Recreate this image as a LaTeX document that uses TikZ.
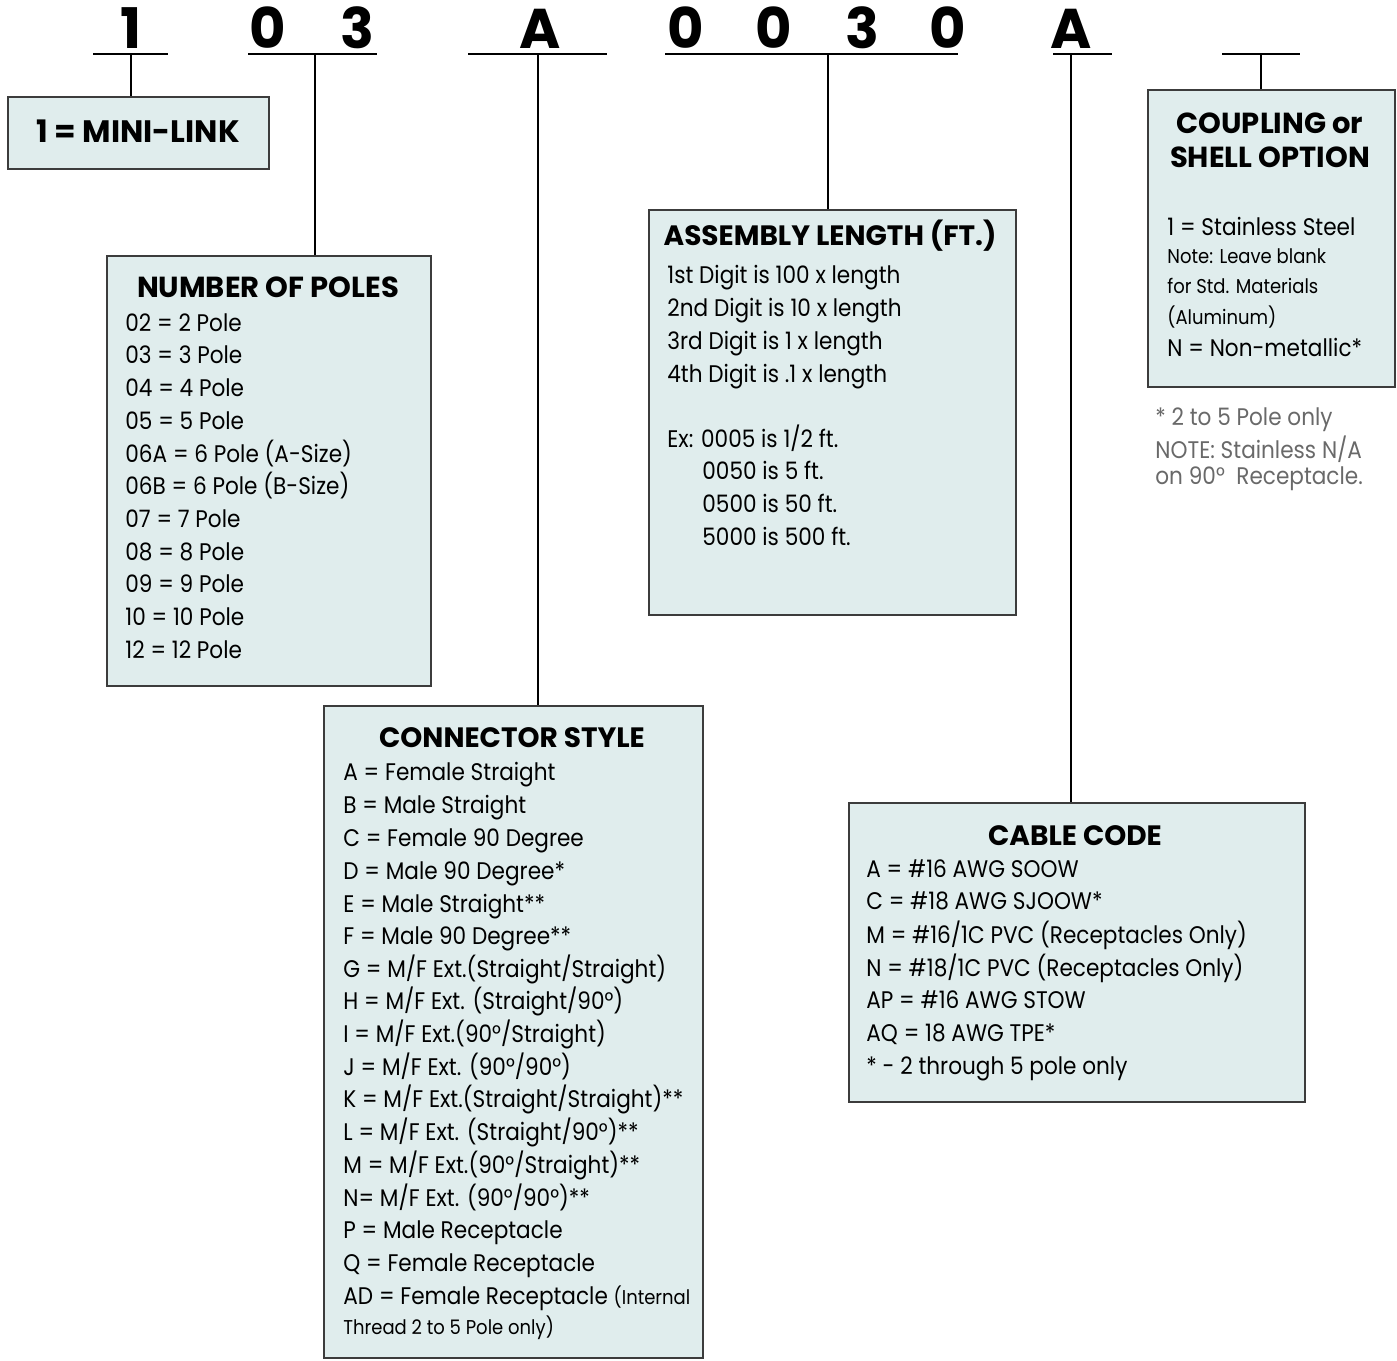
\documentclass[tikz,border=0pt]{standalone}
\usepackage{fontspec}
\setmainfont[FakeStretch=0.9]{Poppins}
\newfontfamily\headfont{Poppins}
\definecolor{boxfill}{RGB}{224,237,237}
\definecolor{boxline}{RGB}{60,60,60}
\definecolor{notegray}{RGB}{105,105,105}

\begin{document}
\begin{tikzpicture}[x=0.5pt,y=-0.5pt,
  optbox/.style={draw=boxline,fill=boxfill,line width=0.8pt,anchor=north west,inner sep=0},
  digit/.style={font=\headfont\fontsize{28}{30}\selectfont\bfseries,anchor=base,inner sep=0},
  head/.style={font=\headfont\fontsize{14}{16}\selectfont\bfseries,anchor=base,inner sep=0},
  item/.style={font=\fontsize{12}{14}\selectfont,anchor=base west,inner sep=0},
  small/.style={font=\fontsize{10}{12}\selectfont,anchor=base west,inner sep=0},
  note/.style={item,text=notegray},
  lead/.style={line width=0.6pt}]
\useasboundingbox (0,0) rectangle (1397,1360);

% part number
\node[digit] (d1) at (131,48) {1};
\node[digit] (d2) at (268,48) {0};
\node[digit] (d3) at (357,48) {3};
\node[digit] (d4) at (540,48) {A};
\node[digit] (d5) at (686,48) {0};
\node[digit] (d6) at (774,48) {0};
\node[digit] (d7) at (862,48) {3};
\node[digit] (d8) at (948,48) {0};
\node[digit] (d9) at (1071,48) {A};

% underlines
\coordinate (u1w) at (93,54);   \coordinate (u1e) at (168,54);  \coordinate (t1) at (131,54);
\coordinate (u2w) at (248,54);  \coordinate (u2e) at (377,54);  \coordinate (t2) at (315,54);
\coordinate (u3w) at (468,54);  \coordinate (u3e) at (607,54);  \coordinate (t3) at (538,54);
\coordinate (u4w) at (665,54);  \coordinate (u4e) at (958,54);  \coordinate (t4) at (828,54);
\coordinate (u5w) at (1053,54); \coordinate (u5e) at (1112,54); \coordinate (t5) at (1071,54);
\coordinate (u6w) at (1222,54); \coordinate (u6e) at (1300,54); \coordinate (t6) at (1261,54);
\draw[line width=0.8pt] (u1w) -- (u1e);
\draw[line width=0.8pt] (u2w) -- (u2e);
\draw[line width=0.8pt] (u3w) -- (u3e);
\draw[line width=0.8pt] (u4w) -- (u4e);
\draw[line width=0.8pt] (u5w) -- (u5e);
\draw[line width=0.8pt] (u6w) -- (u6e);

% boxes
\node[optbox, minimum width=130.5pt, minimum height=36pt] (minilink) at (7,96) {};
\node[optbox, minimum width=162pt, minimum height=215pt] (poles) at (106,255) {};
\node[optbox, minimum width=189.5pt, minimum height=326pt] (style) at (323,705) {};
\node[optbox, minimum width=183.5pt, minimum height=202.5pt] (length) at (648,209) {};
\node[optbox, minimum width=228pt, minimum height=149.5pt] (cable) at (848,802) {};
\node[optbox, minimum width=123.5pt, minimum height=148.5pt] (shell) at (1147,89) {};

% leads
\draw[lead] (t1) -- (t1 |- minilink.north);
\draw[lead] (t2) -- (t2 |- poles.north);
\draw[lead] (t3) -- (t3 |- style.north);
\draw[lead] (t4) -- (t4 |- length.north);
\draw[lead] (t5) -- (t5 |- cable.north);
\draw[lead] (t6) -- (t6 |- shell.north);

% mini-link
\node[head, font=\headfont\fontsize{15.5}{17}\selectfont\bfseries] (mltext) at (138,142) {1 = MINI-LINK};

% number of poles
\node[head, font=\headfont\fontsize{14.5}{16}\selectfont\bfseries] (ph) at (268,297) {NUMBER OF POLES};
\node[item] (p1) at (125,331) {02 = 2 Pole};
\node[item] (p2) at (125,363) {03 = 3 Pole};
\node[item] (p3) at (125,396) {04 = 4 Pole};
\node[item] (p4) at (125,429) {05 = 5 Pole};
\node[item] (p5) at (125,462) {06A = 6 Pole (A-Size)};
\node[item] (p6) at (125,494) {06B = 6 Pole (B-Size)};
\node[item] (p7) at (125,527) {07 = 7 Pole};
\node[item] (p8) at (125,560) {08 = 8 Pole};
\node[item] (p9) at (125,592) {09 = 9 Pole};
\node[item] (p10) at (125,625) {10 = 10 Pole};
\node[item] (p11) at (125,658) {12 = 12 Pole};

% connector style
\node[head] (sh) at (512,747) {CONNECTOR STYLE};
\node[item] (s1) at (343,780) {A = Female Straight};
\node[item] (s2) at (343,813) {B = Male Straight};
\node[item] (s3) at (343,846) {C = Female 90 Degree};
\node[item] (s4) at (343,879) {D = Male 90 Degree*};
\node[item] (s5) at (343,912) {E = Male Straight**};
\node[item] (s6) at (343,944) {F = Male 90 Degree**};
\node[item] (s7) at (343,977) {G = M/F Ext.(Straight/Straight)};
\node[item] (s8) at (343,1009) {H = M/F Ext. (Straight/90°)};
\node[item] (s9) at (343,1042) {I = M/F Ext.(90°/Straight)};
\node[item] (s10) at (343,1075) {J = M/F Ext. (90°/90°)};
\node[item] (s11) at (343,1107) {K = M/F Ext.(Straight/Straight)**};
\node[item] (s12) at (343,1140) {L = M/F Ext. (Straight/90°)**};
\node[item] (s13) at (343,1173) {M = M/F Ext.(90°/Straight)**};
\node[item] (s14) at (343,1206) {N= M/F Ext. (90°/90°)**};
\node[item] (s15) at (343,1238) {P = Male Receptacle};
\node[item] (s16) at (343,1271) {Q = Female Receptacle};
\node[item] (s17) at (343,1304) {AD = Female Receptacle {\fontsize{10}{12}\selectfont (Internal}};
\node[small] (s18) at (343,1334) {Thread 2 to 5 Pole only)};

% assembly length
\node[head] (lh) at (830,245) {ASSEMBLY LENGTH (FT.)};
\node[item] (l1) at (667,283) {1st Digit is 100 x length};
\node[item] (l2) at (667,316) {2nd Digit is 10 x length};
\node[item] (l3) at (667,349) {3rd Digit is 1 x length};
\node[item] (l4) at (667,382) {4th Digit is .1 x length};
\node[item] (l5) at (667,447) {Ex: 0005 is 1/2 ft.};
\node[item] (l6) at (702,479) {0050 is 5 ft.};
\node[item] (l7) at (702,512) {0500 is 50 ft.};
\node[item] (l8) at (702,545) {5000 is 500 ft.};

% cable code
\node[head] (ch) at (1075,845) {CABLE CODE};
\node[item] (c1) at (866,877) {A = \#16 AWG SOOW};
\node[item] (c2) at (866,909) {C = \#18 AWG SJOOW*};
\node[item] (c3) at (866,943) {M = \#16/1C PVC (Receptacles Only)};
\node[item] (c4) at (866,976) {N = \#18/1C PVC (Receptacles Only)};
\node[item] (c5) at (866,1008) {AP = \#16 AWG STOW};
\node[item] (c6) at (866,1041) {AQ = 18 AWG TPE*};
\node[item] (c7) at (866,1074) {* - 2 through 5 pole only};

% coupling or shell option
\node[head, font=\headfont\fontsize{14.5}{16}\selectfont\bfseries] (oh1) at (1270,133) {COUPLING or};
\node[head, font=\headfont\fontsize{14.5}{16}\selectfont\bfseries] (oh2) at (1270,167) {SHELL OPTION};
\node[item] (o1) at (1167,235) {1 = Stainless Steel};
\node[small] (o2) at (1167,263) {Note: Leave blank};
\node[small] (o3) at (1167,293) {for Std. Materials};
\node[small] (o4) at (1167,324) {(Aluminum)};
\node[item] (o5) at (1167,356) {N = Non-metallic*};

% notes
\node[note] (n1) at (1155,425) {* 2 to 5 Pole only};
\node[note] (n2) at (1155,458) {NOTE: Stainless N/A};
\node[note] (n3) at (1155,484) {on 90°\ \ Receptacle.};

\end{tikzpicture}
\end{document}
